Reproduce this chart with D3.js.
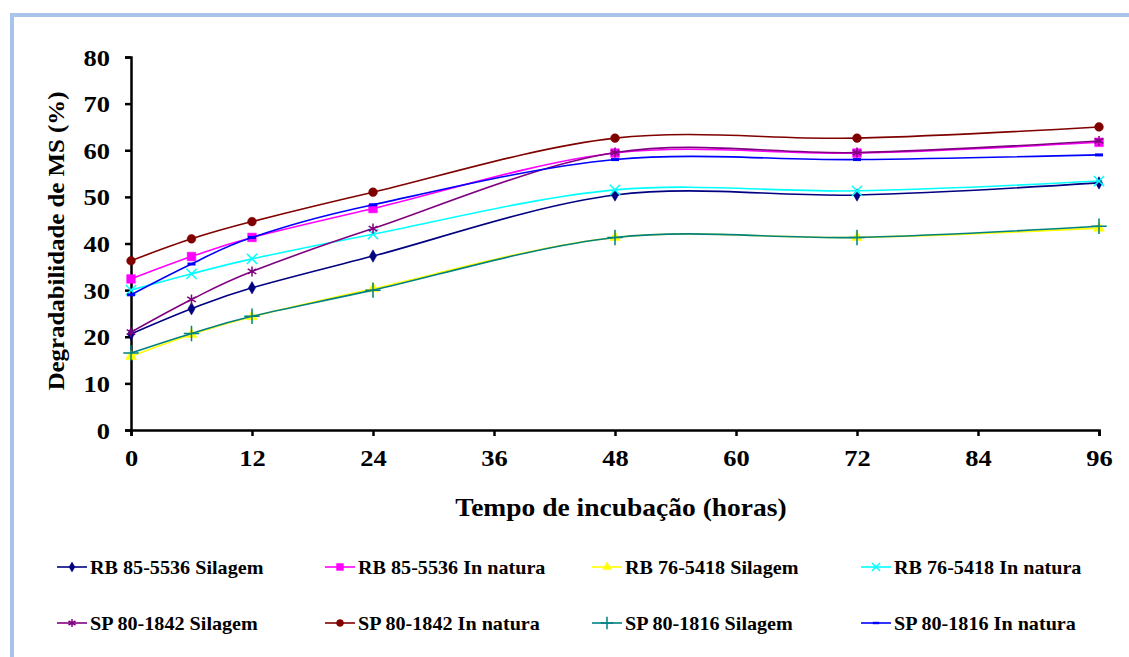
<!DOCTYPE html>
<html>
<head>
<meta charset="utf-8">
<script src="https://cdn.jsdelivr.net/npm/d3@7"></script>
<style>
  body { margin: 0; background: #fff; }
  text { font-family: "Liberation Serif", "Times New Roman", serif; font-weight: bold; }
</style>
</head>
<body>
<div id="chart"></div>
<script>
var hours = [0, 6, 12, 24, 48, 72, 96];
var xTicks = [0, 12, 24, 36, 48, 60, 72, 84, 96];
var yTicks = [0, 10, 20, 30, 40, 50, 60, 70, 80];

var rb855536Silagem = [20.6, 26.0, 30.5, 37.3, 50.4, 50.4, 53.0];
var rb855536Natura  = [32.4, 37.2, 41.3, 47.5, 59.4, 59.4, 61.7];
var rb765418Silagem = [15.8, 20.5, 24.3, 30.3, 41.3, 41.3, 43.3];
var rb765418Natura  = [30.0, 33.5, 36.7, 42.0, 51.5, 51.3, 53.4];
var sp801842Silagem = [21.0, 28.0, 34.0, 43.2, 59.5, 59.5, 62.0];
var sp801842Natura  = [36.3, 41.0, 44.7, 51.0, 62.6, 62.6, 65.0];
var sp801816Silagem = [16.5, 20.7, 24.4, 30.0, 41.3, 41.3, 43.7];
var sp801816Natura  = [29.0, 35.6, 41.3, 48.3, 58.0, 58.0, 59.0];

var seriesNames = ["RB 85-5536 Silagem", "RB 85-5536 In natura", "RB 76-5418 Silagem", "RB 76-5418 In natura",
                   "SP 80-1842 Silagem", "SP 80-1842 In natura", "SP 80-1816 Silagem", "SP 80-1816 In natura"];
var seriesValues = [rb855536Silagem, rb855536Natura, rb765418Silagem, rb765418Natura,
                    sp801842Silagem, sp801842Natura, sp801816Silagem, sp801816Natura];

// style per series: color, symbol, size, filled?
var styles = [
  {color: "#000080", symbol: d3.symbolDiamond, size: 45, fill: true},
  {color: "#ff00ff", symbol: d3.symbolSquare, size: 75, fill: true},
  {color: "#ffff00", symbol: d3.symbolTriangle, size: 50, fill: true},
  {color: "#00ffff", symbol: d3.symbolTimes, size: 70, fill: false},
  {color: "#800080", symbol: d3.symbolAsterisk, size: 70, fill: false},
  {color: "#800000", symbol: d3.symbolCircle, size: 60, fill: true},
  {color: "#008080", symbol: d3.symbolPlus, size: 80, fill: false},
  {color: "#0000ff", symbol: "dash", size: 0, fill: true}
];

var width = 1129, height = 657;
var plotLeft = 131, plotRight = 1099, plotTop = 57, plotBottom = 430;

var svg = d3.select("#chart").append("svg")
  .attr("width", width)
  .attr("height", height);

svg.append("rect").attr("width", width).attr("height", height).attr("fill", "#fff");

// stretch text a bit wider, like the reference
function widen(sel, factor) {
  sel.each(function(){
    var w = this.getComputedTextLength();
    d3.select(this).attr("textLength", w * factor).attr("lengthAdjust", "spacingAndGlyphs");
  });
}

// frame (only top and left visible)
svg.append("line")
  .attr("x1", 10).attr("y1", 15).attr("x2", width).attr("y2", 15)
  .attr("stroke", "#a8c4e8").attr("stroke-width", 4);
svg.append("line")
  .attr("x1", 12).attr("y1", 13).attr("x2", 12).attr("y2", height)
  .attr("stroke", "#a8c4e8").attr("stroke-width", 4);

var x = d3.scaleLinear().domain([0, 96]).range([plotLeft, plotRight]);
var y = d3.scaleLinear().domain([0, 80]).range([plotBottom, plotTop]);

var yAxis = svg.append("g")
  .attr("transform", "translate(" + plotLeft + ",0)")
  .call(d3.axisLeft(y).tickValues(yTicks).tickSize(6).tickPadding(15));
var xAxis = svg.append("g")
  .attr("transform", "translate(0," + plotBottom + ")")
  .call(d3.axisBottom(x).tickValues(xTicks).tickSize(6).tickPadding(14));

[xAxis, yAxis].forEach(function(a){
  a.select(".domain").attr("stroke", "#000").attr("stroke-width", 2.5);
  a.selectAll(".tick line").attr("stroke", "#000").attr("stroke-width", 2.5);
  a.selectAll(".tick text")
    .attr("fill", "#000")
    .style("font-size", "23px")
    .style("font-family", "'Liberation Serif', serif")
    .style("font-weight", "bold");
  widen(a.selectAll(".tick text"), 1.15);
});
yAxis.selectAll(".tick text").attr("dy", "0.35em");

svg.append("text")
  .attr("x", 621).attr("y", 516)
  .attr("text-anchor", "middle")
  .style("font-size", "25px")
  .text("Tempo de incubação (horas)")
  .call(widen, 1.1);

svg.append("text")
  .attr("transform", "translate(64,241) rotate(-90)")
  .attr("text-anchor", "middle")
  .style("font-size", "23px")
  .text("Degradabilidade de MS (%)")
  .call(widen, 1.08);

var line = d3.line()
  .x(function(d){ return x(d[0]); })
  .y(function(d){ return y(d[1]); })
  .curve(d3.curveCardinal.tension(0));

function drawMarker(g, st, cx, cy, scale) {
  if (st.symbol === "dash") {
    g.append("rect")
      .attr("x", cx - 4 * scale).attr("y", cy - 1.5 * scale)
      .attr("width", 8 * scale).attr("height", 3 * scale)
      .attr("fill", st.color);
    return;
  }
  g.append("path")
    .attr("d", d3.symbol().type(st.symbol).size(st.size * scale * scale)())
    .attr("transform", "translate(" + cx + "," + cy + ")")
    .attr("fill", st.fill ? st.color : "none")
    .attr("stroke", st.color)
    .attr("stroke-width", st.fill ? 0.5 : 1.5);
}

seriesValues.forEach(function(vals, i){
  var st = styles[i];
  var pts = hours.map(function(h, j){ return [h, vals[j]]; });
  var g = svg.append("g");
  g.append("path")
    .attr("d", line(pts))
    .attr("fill", "none")
    .attr("stroke", st.color)
    .attr("stroke-width", 1.6);
  pts.forEach(function(p){
    drawMarker(g, st, x(p[0]), y(p[1]), 1);
  });
});

// legend
var legendCols = [57, 325, 592, 861];
var legendRows = [567, 623];
seriesNames.forEach(function(name, i){
  var st = styles[i];
  var lx = legendCols[i % 4], ly = legendRows[Math.floor(i / 4)];
  var g = svg.append("g");
  g.append("line")
    .attr("x1", lx).attr("y1", ly).attr("x2", lx + 30).attr("y2", ly)
    .attr("stroke", st.color).attr("stroke-width", 1.6);
  drawMarker(g, st, lx + 15, ly, 0.8);
  g.append("text")
    .attr("x", lx + 33).attr("y", ly)
    .attr("dy", "0.35em")
    .style("font-size", "19px")
    .text(name)
    .call(widen, 1.06);
});
</script>
</body>
</html>
